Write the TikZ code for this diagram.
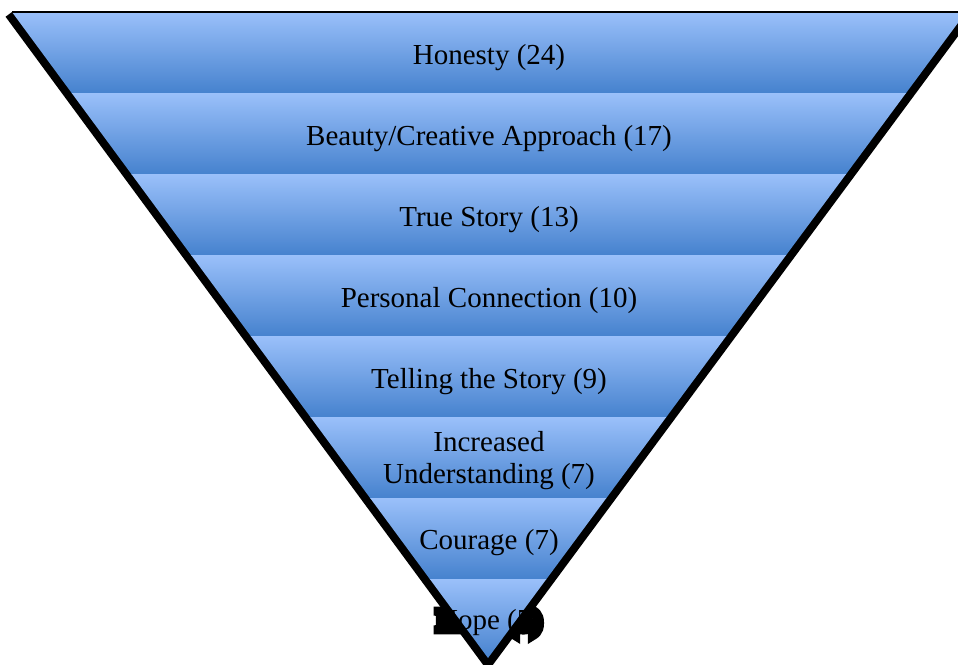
\documentclass[tikz,border=0pt]{standalone}
\usepackage{fontspec}
\setmainfont{Liberation Serif}
\newfontfamily\halofont{Liberation Serif}[FakeBold=30]
\definecolor{bandtop}{HTML}{9AC0FA}
\definecolor{bandbot}{HTML}{4682CE}
\begin{document}
\begin{tikzpicture}[x=1pt,y=-1pt,
  band/.style={top color=bandtop,bottom color=bandbot,draw=none},
  lbl/.style={font=\fontsize{29}{32}\selectfont, text=black, align=center, inner sep=0pt}]
\useasboundingbox (0,0) rectangle (958,664);
\coordinate (TL) at (12,12);
\coordinate (TR) at (966,12);
\coordinate (AP) at (488,658);
% black halo of the last label (visible outside the triangle)
\node[lbl, font=\halofont\fontsize{29}{32}\selectfont] (halo) at (489,623) {Hope (5)};
% thick black sides
\begin{scope}
  \clip (0,12) rectangle (980,700);
  \draw[line width=16pt, line join=miter] (TL) -- (AP) -- (TR);
\end{scope}
% bands
\begin{scope}
  \clip (TL) -- (TR) -- (AP) -- cycle;
  \foreach \i in {0,...,7}
    \shade[band] (0,{12+\i*81}) rectangle (980,{12+(\i+1)*81});
\end{scope}
\draw[line width=1.5pt] (TL) -- (TR);
% labels
\node[lbl] (b1) at (489,58) {Honesty (24)};
\node[lbl] (b2) at (489,139) {Beauty/Creative Approach (17)};
\node[lbl] (b3) at (489,220) {True Story (13)};
\node[lbl] (b4) at (489,301) {Personal Connection (10)};
\node[lbl] (b5) at (489,382) {Telling the Story (9)};
\node[lbl] (b6) at (489,461) {Increased\\Understanding (7)};
\node[lbl] (b7) at (489,543) {Courage (7)};
\node[lbl] (b8) at (489,623) {Hope (5)};
\end{tikzpicture}
\end{document}
